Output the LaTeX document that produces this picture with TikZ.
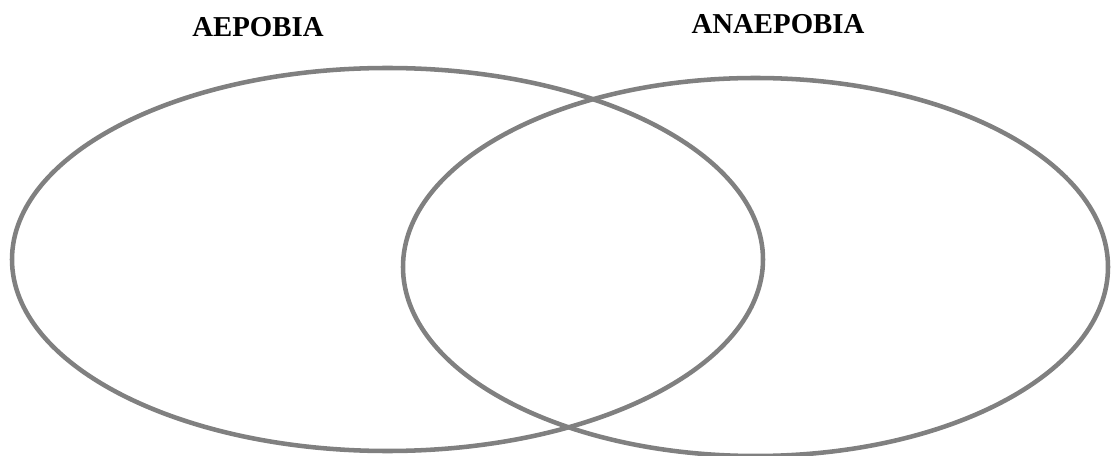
\documentclass[tikz,border=0pt]{standalone}
\usepackage{fontspec}
\setmainfont{Liberation Serif}
\usepackage{tikz}
\usetikzlibrary{shapes.geometric}
\definecolor{grisborde}{HTML}{808080}

\begin{document}
\begin{tikzpicture}[x=0.75pt,y=-0.75pt,
  conjunto/.style={ellipse, draw=grisborde, line width=3.4pt, inner sep=0pt},
  titulo/.style={font=\fontsize{21.6}{26}\selectfont\bfseries}]
  \useasboundingbox (0,0) rectangle (1111,456);
  % conjuntos
  \node[conjunto, minimum width=751*0.75pt, minimum height=383*0.75pt] (aer) at (387.5,259.5) {};
  \node[conjunto, minimum width=705*0.75pt, minimum height=378*0.75pt] (anaer) at (755.5,267) {};
  % titulos
  \node[titulo] (taer) at (258,27) {ΑΕΡΟΒΙΑ};
  \node[titulo] (tanaer) at (778,24) {ΑΝΑΕΡΟΒΙΑ};
\end{tikzpicture}
\end{document}
